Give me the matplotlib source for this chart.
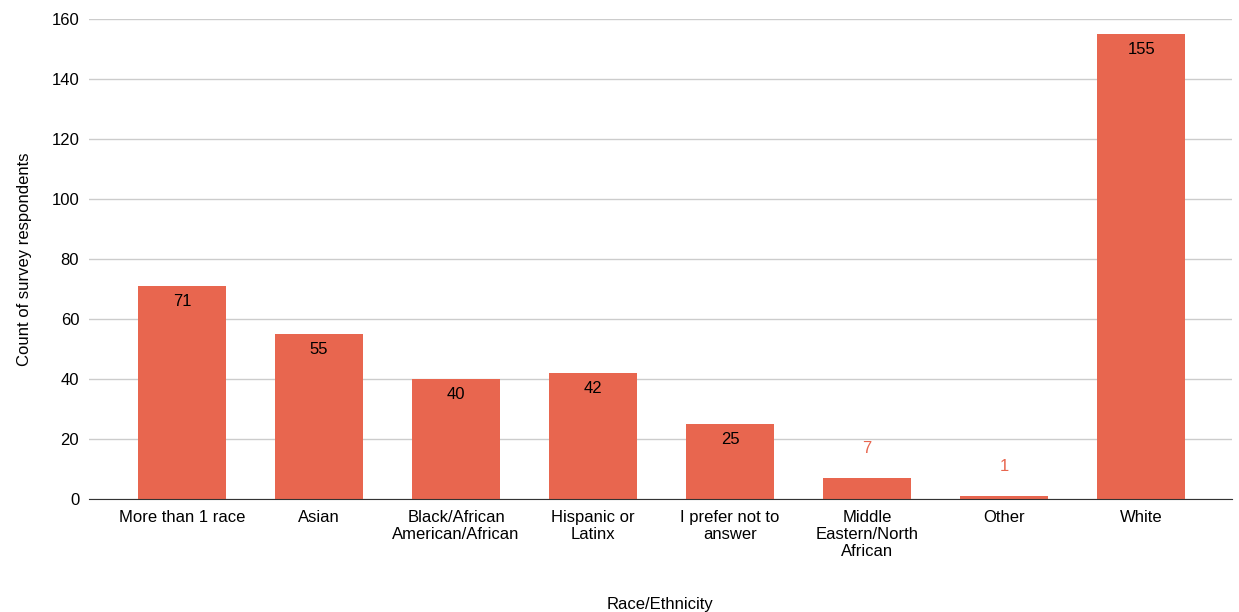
import matplotlib.pyplot as plt

plt.rcParams['font.family'] = ['Liberation Sans', 'DejaVu Sans']

# datos del grafico
categorias = ["More than 1 race", "Asian", "Black/African\nAmerican/African",
              "Hispanic or\nLatinx", "I prefer not to\nanswer",
              "Middle\nEastern/North\nAfrican", "Other", "White"]
conteos = [71, 55, 40, 42, 25, 7, 1, 155]

color_barra = "#e8664f"

fig = plt.figure(figsize=(12.39, 6.12), dpi=100)
ax = fig.add_axes([0.0718, 0.1846, 0.9222, 0.7844])

x = list(range(len(categorias)))
barras = ax.bar(x, conteos, width=0.64, color=color_barra, zorder=3)

# etiquetas de valor: dentro de la barra si cabe, arriba si no
for xi, v in zip(x, conteos):
    if v >= 15:
        ax.annotate(str(v), (xi, v), xytext=(0, -11), textcoords="offset points",
                    ha="center", va="center", fontsize=12, color="black", zorder=4)
    else:
        ax.annotate(str(v), (xi, v), xytext=(0, 21), textcoords="offset points",
                    ha="center", va="center", fontsize=12, color=color_barra, zorder=4)

ax.set_xlim(-0.68, 7.66)
ax.set_ylim(0, 160)
ax.set_yticks(range(0, 161, 20))
ax.set_xticks(x)
ax.set_xticklabels(categorias, fontsize=12, linespacing=1.15)
ax.tick_params(axis="y", labelsize=12, length=0, pad=7)
ax.tick_params(axis="x", length=0, pad=8)

ax.grid(axis="y", color="#cccccc", linewidth=1, zorder=0)
for lado in ["top", "right", "left"]:
    ax.spines[lado].set_visible(False)
ax.spines["bottom"].set_color("#333333")
ax.spines["bottom"].set_zorder(5)

ax.set_ylabel("Count of survey respondents", fontsize=12, labelpad=14)
fig.text(0.533, 0.0, "Race/Ethnicity", ha="center", va="bottom", fontsize=12)

fig.savefig("out.png", dpi=100)
